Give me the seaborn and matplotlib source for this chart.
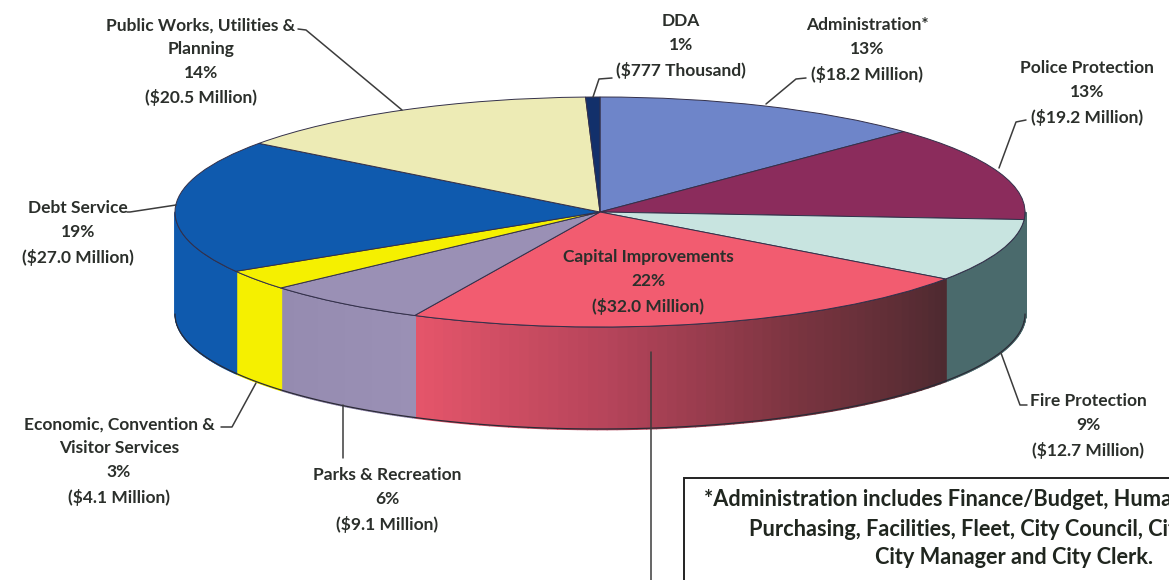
import numpy as np
import pandas as pd
import matplotlib.pyplot as plt
from matplotlib.patches import Rectangle
import seaborn as sns

# data, clockwise from the top of the pie
departments = ["Administration", "Police Protection", "Fire Protection", "Capital Improvements",
               "Parks & Recreation", "Economic, Convention & Visitor Services", "Debt Service",
               "Public Works, Utilities & Planning", "DDA"]
budget_millions = [18.2, 19.2, 12.7, 32.0, 9.1, 4.1, 27.0, 20.5, 0.777]
top_colors = ["#6E85C9", "#8B2C5C", "#C8E4E0", "#F25C70", "#9A90B5", "#F5F000", "#0F5AAE", "#EDEBB5", "#12306B"]
wall_colors = [["#5A6EAA", "#5A6EAA"], ["#4A6A6C", "#4A6A6C"], ["#4A6A6C", "#4A6A6C"],
               ["#4E2A30", "#7A3440", "#B5445A", "#E4556A"], ["#9A90B5", "#958BB0"],
               ["#F5F000", "#F5F000"], ["#0F5AAE", "#0F5AAE"], ["#C9C798", "#C9C798"], ["#12306B", "#12306B"]]

label_texts = ["Administration*\n13%\n($18.2 Million)", "Police Protection\n13%\n($19.2 Million)",
               "Fire Protection\n9%\n($12.7 Million)", "Capital Improvements\n22%\n($32.0 Million)",
               "Parks & Recreation\n6%\n($9.1 Million)", "Economic, Convention &\nVisitor Services\n3%\n($4.1 Million)",
               "Debt Service\n19%\n($27.0 Million)", "Public Works, Utilities &\nPlanning\n14%\n($20.5 Million)",
               "DDA\n1%\n($777 Thousand)"]
label_x = [867, 1087, 1088, 648, 387, 119, 78, 201, 681]
label_y = [50, 93, 426, 282, 500, 461, 233, 62, 46]

leaders = [[(766, 104), (796, 79), (806, 78)], [(999, 168), (1016, 122), (1026, 120)],
           [(1001, 353), (1020, 405), (1027, 405)], [(651, 352), (651, 580)],
           [(343, 405), (343, 458)], [(256, 383), (232, 427), (221, 427)],
           [(176, 205), (130, 212), (127, 212)], [(402, 110), (306, 30), (298, 29)],
           [(593, 97), (599, 79), (612, 78)]]

W, H = 1169, 580
CX, CY, RX, RY, DEPTH = 600, 212, 425, 115, 102

df = pd.DataFrame({"department": departments, "budget": budget_millions})

sns.set_theme(style="white")
plt.rcParams["font.family"] = ["Lato", "DejaVu Sans"]

fig = plt.figure(figsize=(W / 100, H / 100), dpi=100)
ax = fig.add_axes([0, 0, 1, 1])
ax.pie(df["budget"], colors=top_colors, startangle=90, counterclock=False, radius=1,
       wedgeprops={"edgecolor": "#33304a", "linewidth": 0.7, "zorder": 5})

# pie axes squashed to an ellipse
ax.set_aspect("auto")
ax.set_xlim(-CX / RX, (W - CX) / RX)
ax.set_ylim(-(H - CY) / RY, CY / RY)
ax.axis("off")

# side wall, built from the same slice angles as the pie
drop = DEPTH / RY
shares = df["budget"] / df["budget"].sum() * 360
ends = 90 - shares.cumsum()
starts = ends + shares
for a0, a1, cols in zip(starts, ends, wall_colors):
    lo, hi = max(a1, -180), min(a0, 0)
    if lo >= hi:
        continue
    steps = 60
    pal = sns.blend_palette(cols, steps)
    edges = np.radians(np.linspace(hi, lo, steps + 1))
    # gradient runs along the rim, darkest on the right
    for i in range(steps):
        t = np.linspace(edges[i + 1], edges[i], 4)
        ax.fill_between(np.cos(t), np.sin(t), np.sin(t) - drop, color=pal[i], linewidth=1.2, zorder=2)
    t = np.radians(np.linspace(lo, hi, 80))
    ax.plot(np.cos(t), np.sin(t) - drop, color="#2a2a35", lw=0.9, zorder=3)
    ax.plot(np.cos(t), np.sin(t), color="#33304a", lw=0.7, zorder=3)


def px(x, y):
    return x / W, 1 - y / H


for pts in leaders:
    xs, ys = zip(*[px(*p) for p in pts])
    ax.plot(xs, ys, color="#3c3c3c", lw=1.1, transform=ax.transAxes, zorder=6, clip_on=False)

for txt, x, y in zip(label_texts, label_x, label_y):
    ax.text(*px(x, y), txt, transform=ax.transAxes, ha="center", va="center", fontsize=12.5,
            fontweight="bold", color="#2b2f2b", linespacing=1.6, zorder=7)

# footnote box, runs off the right and bottom edges
ax.add_patch(Rectangle(px(684, 600), 600 / W, 122 / H, transform=ax.transAxes, fill=False,
                       edgecolor="#222222", lw=1.4, clip_on=True, zorder=6))
box_style = dict(transform=ax.transAxes, va="center", fontsize=15.7, fontweight="bold", color="#20261f")
ax.text(*px(704, 499), "*Administration includes Finance/Budget, Human", ha="left", **box_style)
ax.text(*px(749, 530), "Purchasing, Facilities, Fleet, City Council, City", ha="left", **box_style)
ax.text(*px(1014, 558), "City Manager and City Clerk.", ha="center", **box_style)

fig.savefig("out.png", dpi=100)
